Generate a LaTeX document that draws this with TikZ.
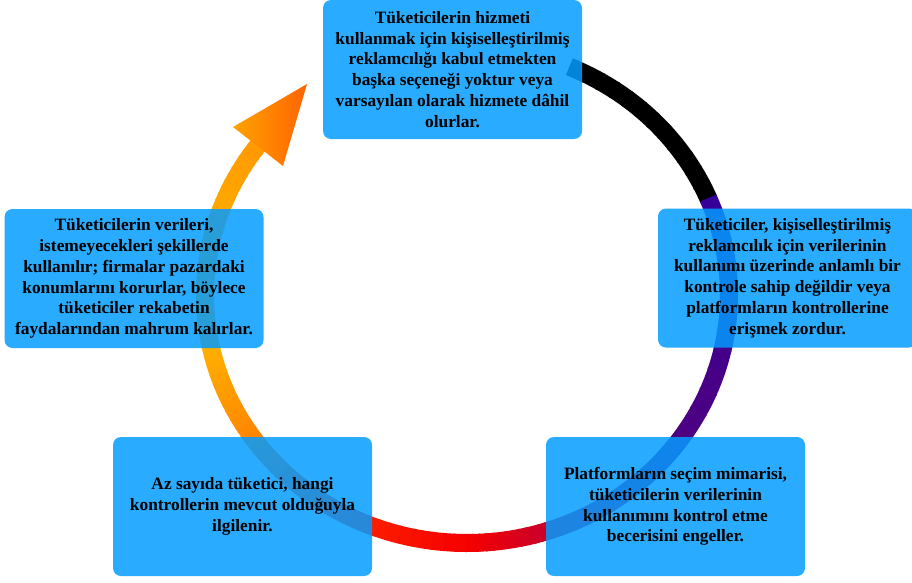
\documentclass[tikz,border=0pt]{standalone}
\usepackage{fontspec}
\setmainfont{Liberation Serif}

\definecolor{boxblue}{RGB}{3,156,255}
\definecolor{ringA}{RGB}{0,0,0}
\definecolor{ringB}{RGB}{51,0,153}
\definecolor{ringC}{RGB}{80,0,128}
\definecolor{ringD}{RGB}{200,0,45}
\definecolor{ringE}{RGB}{245,0,0}
\definecolor{ringF}{RGB}{255,40,0}
\definecolor{ringG}{RGB}{255,128,0}
\definecolor{ringH}{RGB}{255,176,0}
\definecolor{ringI}{RGB}{255,168,0}
\definecolor{ringJ}{RGB}{255,152,0}
\definecolor{arrowA}{RGB}{255,162,0}
\definecolor{arrowB}{RGB}{255,100,0}

\tikzset{every picture/.style={line width=0.75pt}}
\tikzset{
  cyclebox/.style={draw=none, fill=boxblue, fill opacity=0.85, text opacity=1,
    rounded corners=6pt, minimum width=194.25pt, minimum height=104.25pt,
    inner sep=0pt, align=center, font=\fontsize{13}{15.6}\selectfont\bfseries},
  ring/.style={line width=13.5pt}
}

\begin{document}
\begin{tikzpicture}[x=0.75pt,y=0.75pt,yscale=-1,xscale=1]
\clip (0,0) rectangle (912,582);

%Arc: ring with colour steps
\foreach \ta/\tb/\ca/\cb in {-67/-23/ringA/ringA, -23/38/ringB/ringC, 38/72/ringC/ringD, 72/90/ringD/ringE, 90/120/ringE/ringF, 120/142/ringF/ringG, 142/168/ringG/ringH, 168/200/ringH/ringI, 200/219/ringI/ringJ}{
  \foreach \i in {0,...,11}{
    \pgfmathsetmacro\pa{\ta+(\tb-\ta)*\i/12}
    \pgfmathsetmacro\pb{\ta+(\tb-\ta)*(\i+1)/12+0.4}
    \pgfmathtruncatemacro\mix{100-(\i+0.5)*100/12}
    \colorlet{segcol}{\ca!\mix!\cb}
    \draw[ring,segcol] ({467+262*cos(\pa)},{295+248*sin(\pa)}) arc[start angle=\pa,end angle=\pb,x radius=262,y radius=248];
  }
}
%Shape: arrow head
\shade[left color=arrowA, right color=arrowB] (307,84) -- (233,127) -- (283,166) -- cycle;

% Text Nodes
\node[cyclebox] (optin) at (452.5,69.5) {Tüketicilerin hizmeti\\kullanmak için kişiselleştirilmiş\\reklamcılığı kabul etmekten\\başka seçeneği yoktur veya\\varsayılan olarak hizmete dâhil\\olurlar.};
\node[cyclebox] (control) at (787.5,278) {Tüketiciler, kişiselleştirilmiş\\reklamcılık için verilerinin\\kullanımı üzerinde anlamlı bir\\kontrole sahip değildir veya\\platformların kontrollerine\\erişmek zordur.};
\node[cyclebox] (archi) at (675.5,506.5) {Platformların seçim mimarisi,\\tüketicilerin verilerinin\\kullanımını kontrol etme\\becerisini engeller.};
\node[cyclebox] (few) at (242.5,506.5) {Az sayıda tüketici, hangi\\kontrollerin mevcut olduğuyla\\ilgilenir.};
\node[cyclebox] (harm) at (134,278.5) {Tüketicilerin verileri,\\istemeyecekleri şekillerde\\kullanılır; firmalar pazardaki\\konumlarını korurlar, böylece\\tüketiciler rekabetin\\faydalarından mahrum kalırlar.};

\end{tikzpicture}
\end{document}
